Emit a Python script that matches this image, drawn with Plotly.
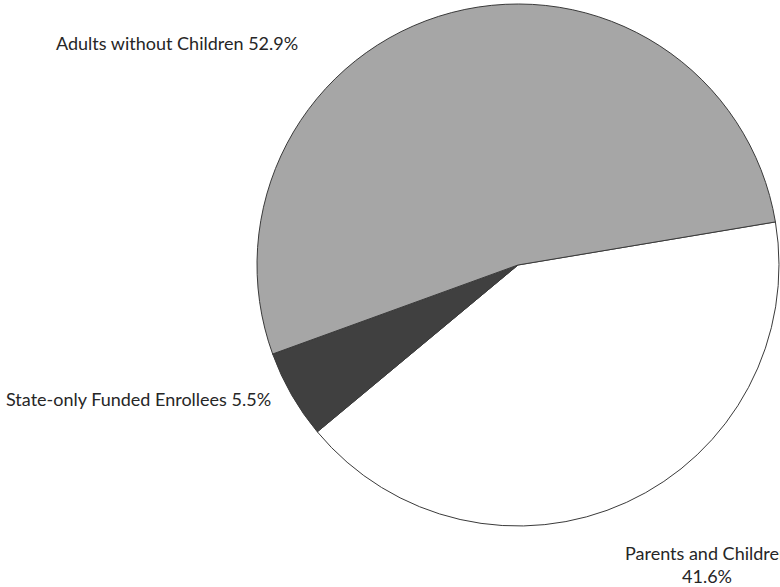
import plotly.graph_objects as go

categories = ["Parents and Children", "State-only Funded Enrollees", "Adults without Children"]
shares = [41.6, 5.5, 52.9]
colors = ["#ffffff", "#404040", "#a6a6a6"]

W, H = 780, 587
cx, cy, r = 518.0, 265.0, 261.0

fig = go.Figure(go.Pie(
    labels=categories,
    values=shares,
    sort=False,
    direction="clockwise",
    rotation=80.5,
    marker=dict(colors=colors, line=dict(color="#3a3a3a", width=1)),
    textinfo="none",
    hoverinfo="label+percent",
    showlegend=False,
    domain=dict(x=[(cx - r) / W, (cx + r) / W], y=[1 - (cy + r) / H, 1 - (cy - r) / H]),
))

label_text = {
    "Adults without Children": f"Adults without Children {shares[2]}%",
    "State-only Funded Enrollees": f"State-only Funded Enrollees {shares[1]}%",
    "Parents and Children": f"Parents and Children<br>{shares[0]}%",
}
label_pos = {
    "Adults without Children": (177, 43),
    "State-only Funded Enrollees": (138, 399),
    "Parents and Children": (707, 564),
}
for cat in categories:
    x, y = label_pos[cat]
    fig.add_annotation(
        x=x / W, y=1 - y / H, xref="paper", yref="paper",
        text=label_text[cat], showarrow=False, xanchor="center", yanchor="middle",
        font=dict(family="Lato", size=18, color="#262626"),
    )

fig.update_layout(
    width=W, height=H,
    margin=dict(l=0, r=0, t=0, b=0),
    paper_bgcolor="white", plot_bgcolor="white",
)
fig.write_html(
    "out.html",
    config={"displayModeBar": False},
    post_script="document.body.style.margin='0';document.body.style.overflow='hidden';",
)
